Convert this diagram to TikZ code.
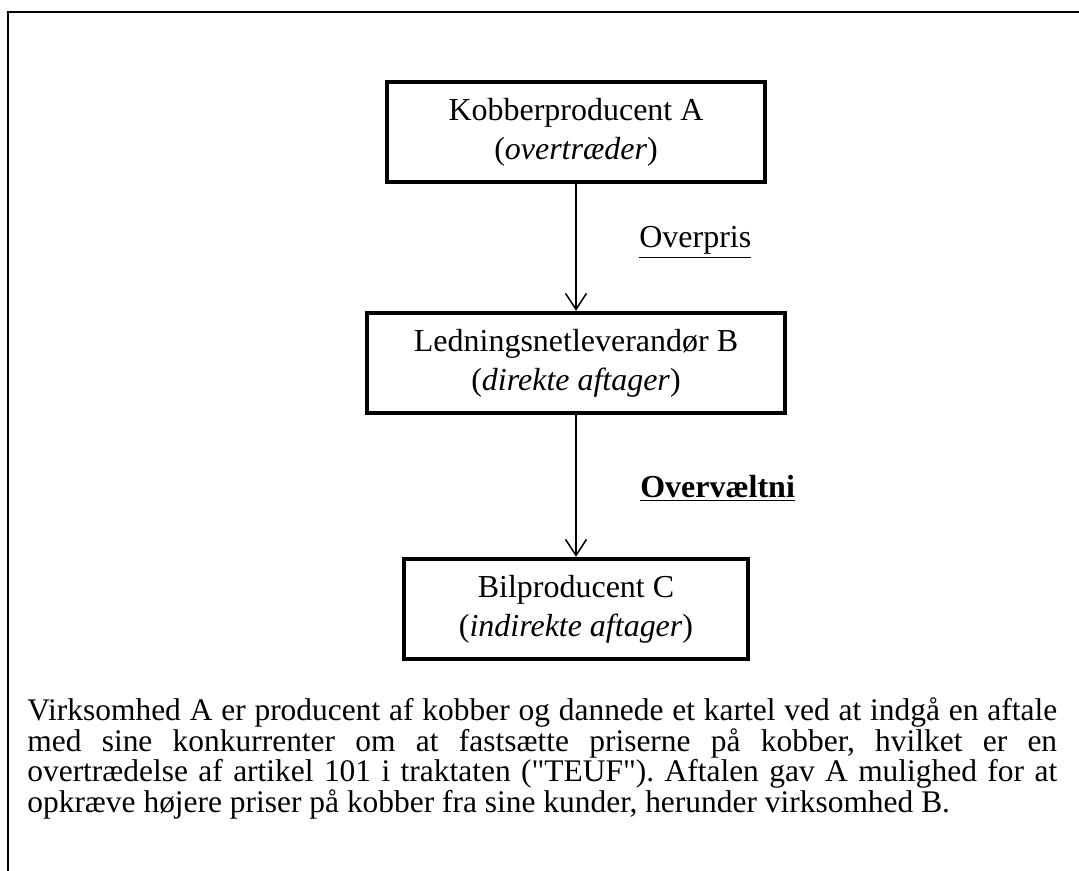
\documentclass[tikz,border=0pt]{standalone}
\usepackage{fontspec}
\setmainfont{Liberation Serif}
\usetikzlibrary{arrows.meta}

\begin{document}
\begin{tikzpicture}[x=0.02cm,y=-0.02cm,
    boks/.style={draw,line width=0.09cm,align=center,minimum height=2.0cm,inner sep=0pt,font=\fontsize{18.2}{22.2}\selectfont},
    pil/.style={line width=0.03cm,-{Straight Barb[length=0.32cm,width=0.42cm]}},
    etiket/.style={inner sep=0pt,anchor=base west,font=\fontsize{18.2}{22.2}\selectfont}]
  \useasboundingbox (0,0) rectangle (1079,871);
  \draw[line width=0.04cm] (8,871) -- (8,12) -- (1079,12);

  \node[boks,minimum width=7.56cm] (prodA) at (576,132) {Kobberproducent A\\(\textit{overtræder})};
  \node[boks,minimum width=8.36cm] (levB) at (576,363) {Ledningsnetleverandør B\\(\textit{direkte aftager})};
  \node[boks,minimum width=6.88cm] (bilC) at (576,609) {Bilproducent C\\(\textit{indirekte aftager})};

  \node[etiket] (overpris) at (639,248) {\underline{Overpris}};
  \node[etiket] (overvaelt) at (640,498) {\bfseries\underline{Overvæltni}};

  \draw[pil] (prodA.south) -- (levB.north);
  \draw[pil] (levB.south) -- (bilC.north);

  \node[anchor=north west,inner sep=0pt,text width=20.6cm,align=justify] (tekst) at (27,697)
    {\fontsize{17.9}{17.6}\selectfont\lineskiplimit=-\maxdimen\frenchspacing
     Virksomhed A er producent af kobber og dannede et kartel ved at indgå en aftale\linebreak
     med sine konkurrenter om at fastsætte priserne på kobber, hvilket er en\linebreak
     overtrædelse af artikel 101 i traktaten (\textquotedbl TEUF\textquotedbl). Aftalen gav A mulighed for at\linebreak
     opkræve højere priser på kobber fra sine kunder, herunder virksomhed B.\par};
\end{tikzpicture}
\end{document}
